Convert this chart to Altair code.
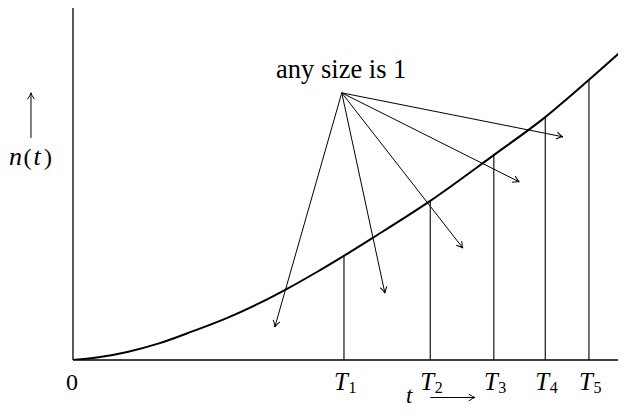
import math
import altair as alt
import pandas as pd

# ---- data (t in [0,10], n in [0,10]) ----
curve_t = [0, 0.49, 0.98, 1.57, 2.17, 2.78, 3.38, 3.87, 4.41, 4.92, 5.42, 6.46, 7.59, 8.54, 9.31, 10.0]
curve_n = [0, 0.085, 0.23, 0.48, 0.82, 1.19, 1.62, 2.02, 2.50, 2.98, 3.47, 4.52, 5.80, 6.90, 7.93, 8.89]

T_pos = [4.90, 6.46, 7.61, 8.54, 9.33]
T_top = [2.97, 4.52, 5.84, 6.90, 7.95]
T_sub = ["1", "2", "3", "4", "5"]

src_t, src_n = 4.86, 7.59
tip_t = [3.65, 5.64, 7.05, 8.07, 8.86]
tip_n = [0.94, 1.90, 3.18, 5.06, 6.34]

note_text = "any size is 1"
note_t, note_n = 4.85, 8.01

label_n = -0.85            # baseline of tick labels
t_label = ("t", 6.08, -1.22)
t_arrow = (6.46, 7.27, -1.065)
# n(t) label pieces: text, t position, italic?
n_parts = ["n", "(", "t", ")"]
n_parts_t = [-1.04, -0.823, -0.651, -0.452]
n_parts_italic = [True, False, True, False]
n_label_n = 5.54
n_arrow = (-0.76, 6.31, 7.59)

PX_T = 55.3                 # pixels per unit of t
PX_N = 35.2                 # pixels per unit of n
W, H = 545, 352             # plot area (page is only 626 wide)
XMAX = W / PX_T
FONT = "Liberation Serif, Times New Roman, Times, serif"
FS = 24

xs = alt.Scale(domain=[0, XMAX], nice=False, zero=False)
ys = alt.Scale(domain=[0, 10], nice=False, zero=False)


def X(f):
    return alt.X(f, type="quantitative", scale=xs, axis=None)


def Y(f):
    return alt.Y(f, type="quantitative", scale=ys, axis=None)


# axes lines
axes_df = pd.DataFrame({"t": [0, 0], "n": [0, 0], "t2": [XMAX, 0], "n2": [0, 10]})
axes = alt.Chart(axes_df).mark_rule(color="black", strokeWidth=1.3).encode(
    x=X("t"), y=Y("n"), x2="t2:Q", y2="n2:Q")

curve_df = pd.DataFrame({"t": curve_t, "n": curve_n})
curve = alt.Chart(curve_df).mark_line(color="black", strokeWidth=2, interpolate="monotone", clip=True).encode(
    x=X("t"), y=Y("n"))

T_df = pd.DataFrame({"t": T_pos, "top": T_top, "zero": [0] * 5, "sub": T_sub,
                     "T": ["T"] * 5, "ln": [label_n] * 5})
vlines = alt.Chart(T_df).mark_rule(color="black", strokeWidth=1.1).encode(
    x=X("t"), y=Y("zero"), y2="top:Q")
T_letters = alt.Chart(T_df).mark_text(font=FONT, fontSize=25, fontStyle="italic", align="right",
                                      baseline="alphabetic", dx=4).encode(
    x=X("t"), y=Y("ln"), text="T:N")
T_subs = alt.Chart(T_df).mark_text(font=FONT, fontSize=16, align="left",
                                   baseline="alphabetic", dx=4.5, dy=3.5).encode(
    x=X("t"), y=Y("ln"), text="sub:N")
zero_lab = alt.Chart(pd.DataFrame({"t": [0], "n": [label_n], "s": ["0"]})).mark_text(
    font=FONT, fontSize=FS, align="center", baseline="alphabetic", dx=-1).encode(x=X("t"), y=Y("n"), text="s:N")


def angle(dt, dn):
    a = math.degrees(math.atan2(-dn * PX_N, dt * PX_T))
    return a % 360


arr_df = pd.DataFrame({"t": [src_t] * 5, "n": [src_n] * 5, "t2": tip_t, "n2": tip_n})
extra_df = pd.DataFrame({
    "t": [t_arrow[0], n_arrow[0]], "n": [t_arrow[2], n_arrow[1]],
    "t2": [t_arrow[1], n_arrow[0]], "n2": [t_arrow[2], n_arrow[2]],
})
all_arr = pd.concat([arr_df, extra_df], ignore_index=True)
all_arr["ang"] = [angle(r.t2 - r.t, r.n2 - r.n) for r in all_arr.itertuples()]

HEAD = "M -1 -0.55 Q -0.35 -0.08 0 0 Q -0.35 0.08 -1 0.55"
shafts = alt.Chart(all_arr).mark_rule(color="black", strokeWidth=1).encode(
    x=X("t"), y=Y("n"), x2="t2:Q", y2="n2:Q")
heads = alt.Chart(all_arr).mark_point(shape=HEAD, filled=False, color="black", strokeWidth=1,
                                      size=160, opacity=1).encode(
    x=X("t2"), y=Y("n2"), angle=alt.Angle("ang:Q", scale=None))

note = alt.Chart(pd.DataFrame({"t": [note_t], "n": [note_n], "s": [note_text]})).mark_text(
    font=FONT, fontSize=26.5, align="center", baseline="alphabetic").encode(x=X("t"), y=Y("n"), text="s:N")

tlab = alt.Chart(pd.DataFrame({"t": [t_label[1]], "n": [t_label[2]], "s": [t_label[0]]})).mark_text(
    font=FONT, fontSize=23, fontStyle="italic", align="center", baseline="alphabetic").encode(
    x=X("t"), y=Y("n"), text="s:N")

n_df = pd.DataFrame({"t": n_parts_t, "n": [n_label_n] * 4, "s": n_parts, "it": n_parts_italic})
n_it = alt.Chart(n_df[n_df["it"]]).mark_text(
    font=FONT, fontSize=26, fontStyle="italic", align="center", baseline="alphabetic").encode(
    x=X("t"), y=Y("n"), text="s:N")
n_up = alt.Chart(n_df[~n_df["it"]]).mark_text(
    font=FONT, fontSize=24, align="center", baseline="alphabetic").encode(
    x=X("t"), y=Y("n"), text="s:N")

chart = alt.layer(axes, curve, vlines, shafts, heads, T_letters, T_subs, zero_lab, note, tlab,
                  n_it, n_up).properties(
    width=W, height=H,
    autosize=alt.AutoSizeParams(type="none"),
    padding={"left": 65, "top": 0, "right": 0, "bottom": 48},
    background="white",
).configure_view(stroke=None)

chart.save("out.html", embed_options={"renderer": "svg", "actions": False})
